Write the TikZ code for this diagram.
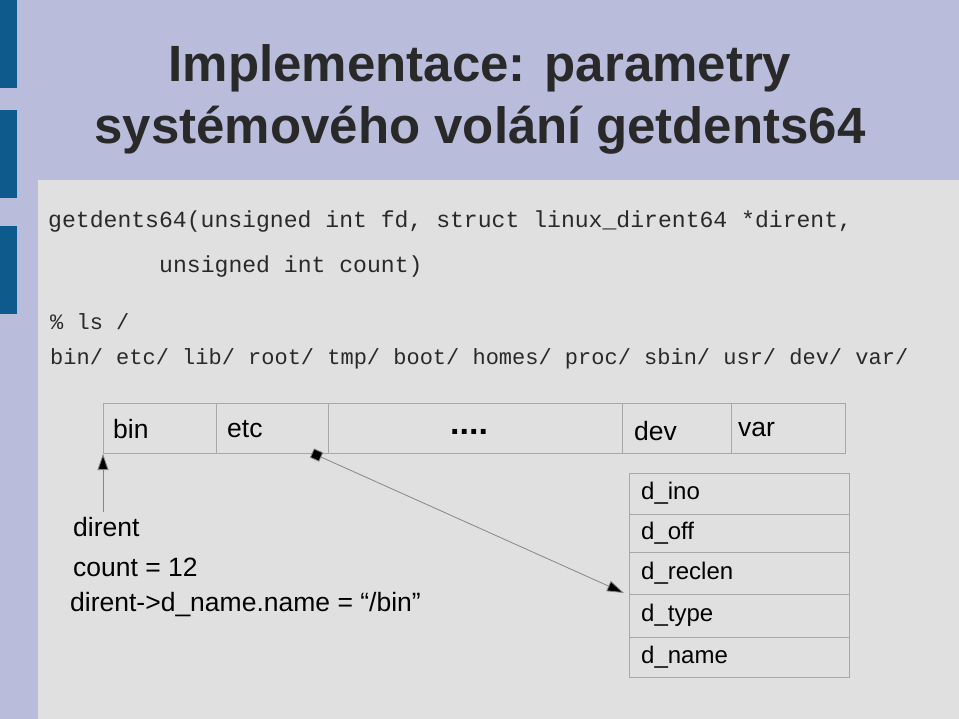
\documentclass[tikz,border=0pt]{standalone}
\usepackage{fontspec}
\setmainfont{Liberation Sans}
\setmonofont{Liberation Mono}
\usetikzlibrary{arrows.meta}
\definecolor{lav}{HTML}{BABCDC}
\definecolor{panel}{HTML}{E0E0E0}
\definecolor{bar}{HTML}{0F5A8C}
\definecolor{ttl}{HTML}{333333}
\definecolor{bord}{HTML}{A8A8A8}
\begin{document}
\begin{tikzpicture}[x=1pt,y=-1pt,
  cell/.style={draw=bord,line width=0.8pt},
  lbl/.style={anchor=west,inner sep=0pt,font=\fontsize{26.5}{27}\selectfont},
  code/.style={anchor=base west,inner sep=0pt,text=ttl!80!black},
  ttlst/.style={anchor=center,inner sep=0pt,text=ttl!80!black,font=\fontsize{51}{51}\selectfont\bfseries}]
\useasboundingbox (0,0) rectangle (959,719);
\fill[lav] (0,0) rectangle (959,719);
\fill[panel] (38,180) rectangle (959,719);
\foreach \a/\b in {0/88,110/198,226/314} \fill[bar] (0,\a) rectangle (17,\b);
\node[ttlst] (t1) at (480,68) {Implementace: parametry};
\node[ttlst] (t2) at (480,130) {systémového volání getdents64};
\node[code,font=\fontsize{23.1}{23}\ttfamily] (c1) at (48,228) {getdents64(unsigned int fd, struct linux\_dirent64 *dirent,};
\node[code,font=\fontsize{23.1}{23}\ttfamily] (c2) at (159,273) {unsigned int count)};
\node[code,font=\fontsize{22}{23}\ttfamily] (c3) at (50,330) {\% ls /};
\node[code,font=\fontsize{22}{23}\ttfamily] (c4) at (50,365) {bin/ etc/ lib/ root/ tmp/ boot/ homes/ proc/ sbin/ usr/ dev/ var/};
% top row
\draw[cell] (103,403) rectangle (216,453) (216,403) rectangle (328,453) (328,403) rectangle (622,453) (622,403) rectangle (731,453) (731,403) rectangle (845,453);
\node[lbl] (bin) at (113,429) {bin};
\node[lbl] (etc) at (227,429) {etc};
\node[lbl,font=\fontsize{34}{34}\selectfont\bfseries] (dots) at (450,432) {....};
\node[lbl] (dev) at (634,431) {dev};
\node[lbl] (var) at (738,429) {var};
\coordinate (binb) at (103,454);
\coordinate (etcb) at (312,453);
% struct
\foreach \a/\b/\t/\n in {473/514/d\_ino/f1,514/552/d\_off/f2,552/594/d\_reclen/f3,594/637/d\_type/f4,637/677/d\_name/f5}{
  \draw[cell] (629,\a) rectangle (849,\b);
  \node[lbl,font=\fontsize{24}{24}\selectfont] (\n) at (641,{(\a+\b)/2}) {\t};}
\coordinate (tgt) at (624,593);
\node[lbl] (dir) at (73,527) {dirent};
\node[lbl] (cnt) at (73,567) {count = 12};
\node[lbl] (nm) at (70,605) {dirent->d\_name.name = “/bin”};
\draw[bord!80!black,line width=0.8pt,-{Triangle[width=11pt,length=16pt,fill=black]}] (103,512) -- (binb);
\draw[bord!80!black,line width=0.8pt,{Square[width=10pt,length=10pt,fill=black,sep=0pt]}-{Triangle[width=11pt,length=17pt,fill=black]}] (etcb) -- (tgt);
\end{tikzpicture}
\end{document}
